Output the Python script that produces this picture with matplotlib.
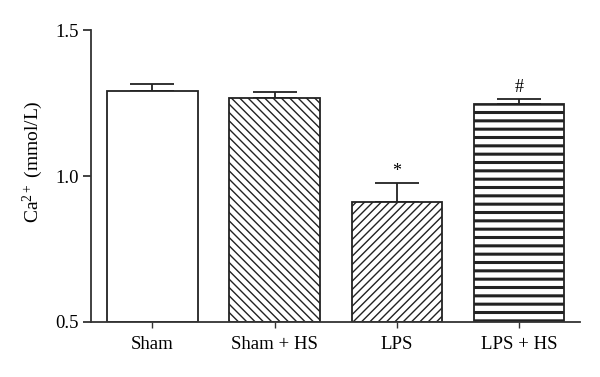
import numpy as np
import matplotlib
matplotlib.use('Agg')
import matplotlib.pyplot as plt

plt.rcParams['font.family'] = 'Liberation Serif'
plt.rcParams['mathtext.fontset'] = 'custom'
plt.rcParams['mathtext.rm'] = 'Liberation Serif'
plt.rcParams['mathtext.it'] = 'Liberation Serif:italic'

groups = ['Sham', 'Sham + HS', 'LPS', 'LPS + HS']
means = [1.291, 1.267, 0.911, 1.247]
sem_up = [0.024, 0.021, 0.065, 0.017]
marks = ['', '', '*', '#']
hatches = ['', '\\\\\\\\', '////', '--']
hatch_lw = [0.8, 1.0, 1.0, 2.2]

fig = plt.figure(figsize=(6, 3.77), dpi=100)
ax = fig.add_axes([0.152, 0.146, 0.815, 0.774])

x = np.arange(len(groups))
for i in range(len(groups)):
    with plt.rc_context({'hatch.linewidth': hatch_lw[i]}):
        b = ax.bar(x[i], means[i] - 0.5, bottom=0.5, width=0.74, color='white',
                   edgecolor='#222222', linewidth=1.3, hatch=hatches[i], zorder=2)
    for p in b:
        if hasattr(p, 'set_hatch_linewidth'):
            p.set_hatch_linewidth(hatch_lw[i])
    ax.errorbar(x[i], means[i], yerr=[[0], [sem_up[i]]], fmt='none',
                ecolor='#222222', elinewidth=1.3, capsize=16, capthick=1.3, zorder=1)
    if marks[i]:
        ax.text(x[i], means[i] + sem_up[i] + 0.012, marks[i], ha='center',
                va='bottom', fontsize=13)

ax.set_xlim(-0.5, 3.5)
ax.set_ylim(0.5, 1.5)
ax.set_yticks([0.5, 1.0, 1.5])
ax.set_xticks(x)
ax.set_xticklabels(groups, fontsize=13.5)
ax.tick_params(axis='y', labelsize=13.5, length=6, width=1.3, color='#333333', pad=3)
ax.tick_params(axis='x', length=4, width=1.0, color='#333333', pad=6)
ax.set_ylabel(r'Ca$^{2+}$ (mmol/L)', fontsize=14)
ax.yaxis.set_label_coords(-0.095, 0.55)
for s in ['top', 'right']:
    ax.spines[s].set_visible(False)
for s in ['left', 'bottom']:
    ax.spines[s].set_linewidth(1.3)
    ax.spines[s].set_color('#333333')

plt.savefig('out.png')
